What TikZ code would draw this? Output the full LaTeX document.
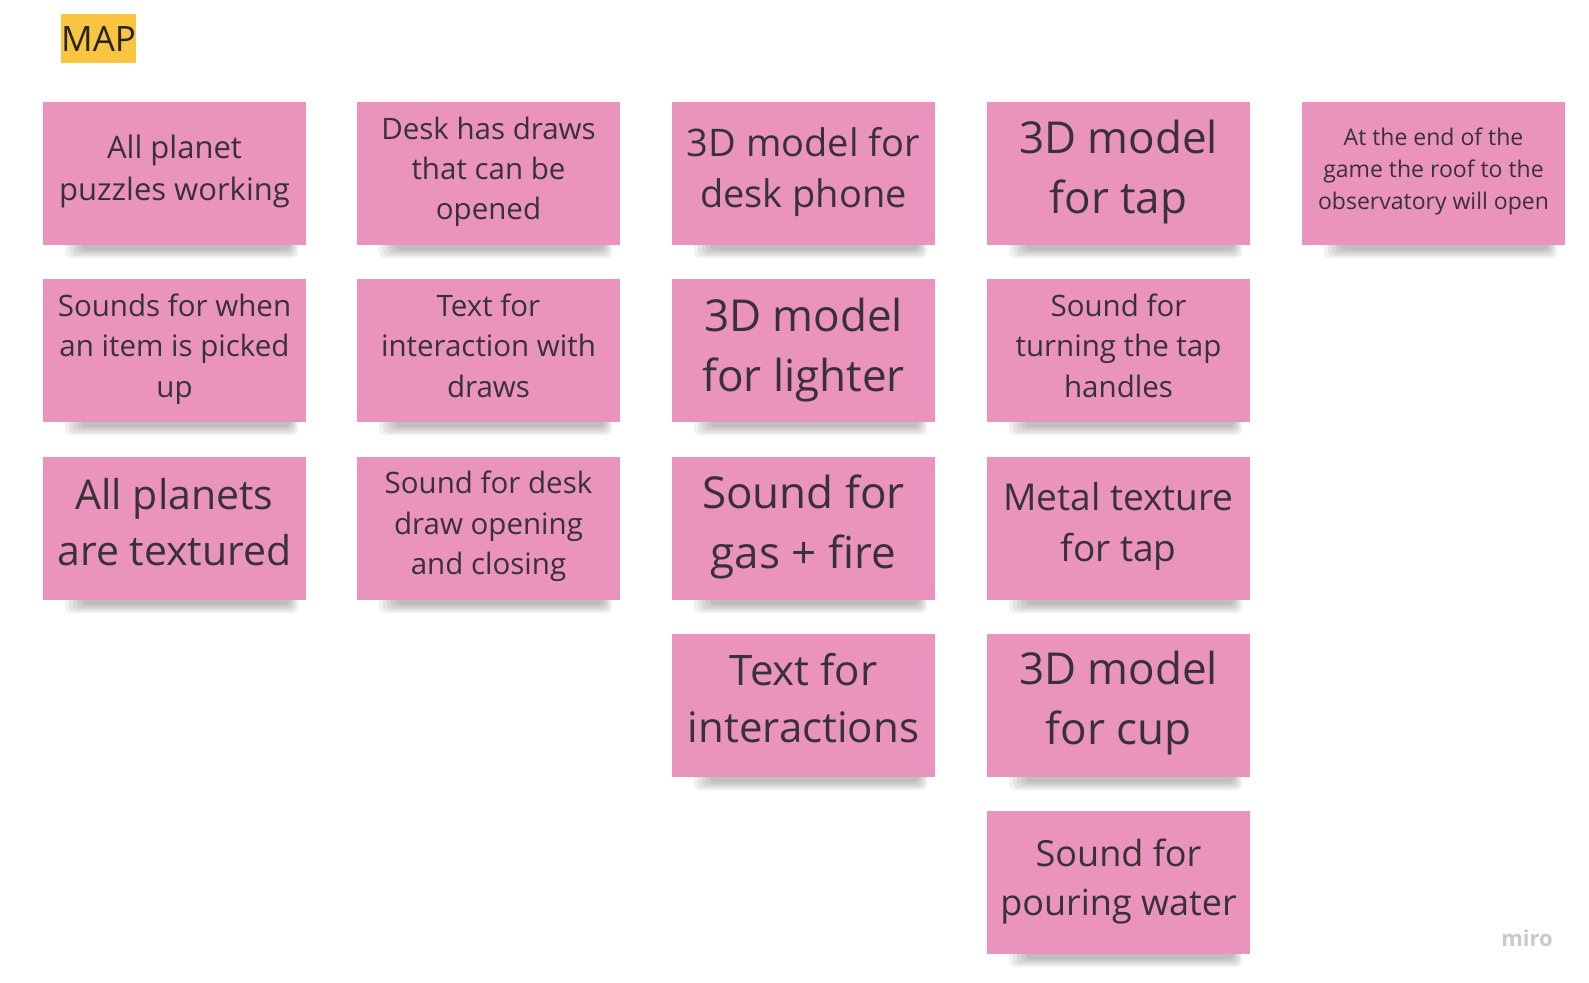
\documentclass[tikz,border=0pt]{standalone}
\usepackage{fontspec}
\setmainfont{Open Sans}
\usetikzlibrary{calc}
\definecolor{notepink}{HTML}{EA94BD}
\definecolor{notetext}{HTML}{3A3038}
\definecolor{mapyellow}{HTML}{F9C440}
\definecolor{mirogray}{HTML}{C9C9D2}
\newcommand{\sticky}[7]{%
  \foreach \i in {0,1,2,3,4} {
    \fill[black, opacity=0.055, rounded corners=5pt]
      ({#2+22+4*\i}, {-(#3+143-5)}) rectangle ({#2+263-8-2*\i}, {-(#3+143+13-2*\i)});
  }
  \node[notebox, minimum width=263pt, minimum height=143pt, anchor=north west] (#1) at (#2,-#3) {};
  \node[notelabel, font={\fontsize{#4}{#5}\selectfont}] (#1-t) at ($(#1.center)+(0,#7)$) {#6};
}
\tikzset{
  notebox/.style={fill=notepink, draw=none, inner sep=0pt, outer sep=0pt},
  notelabel/.style={text=notetext, align=center, inner sep=0pt},
}
\begin{document}
\begin{tikzpicture}[x=1pt,y=1pt]
\useasboundingbox[fill=white] (0,0) rectangle (1589,-982);
\node[fill=mapyellow, minimum width=74pt, minimum height=49pt, inner sep=0pt, anchor=north west,
      text=black!85, font={\fontsize{35}{40}\selectfont}] (map) at (61,-14) {MAP};
\sticky{n11}{43}{102}{31}{42.6}{All planet\\puzzles working}{2}
\sticky{n12}{43}{279}{29.5}{40.5}{Sounds for when\\an item is picked\\up}{1.5}
\sticky{n13}{43}{457}{41}{55.7}{All planets\\are textured}{6.5}
\sticky{n21}{357}{102}{29.5}{40}{Desk has draws\\that can be\\opened}{2}
\sticky{n22}{357}{279}{29.5}{40.5}{Text for\\interaction with\\draws}{5}
\sticky{n23}{357}{457}{29.5}{40.5}{Sound for desk\\draw opening\\and closing}{2}
\sticky{n31}{672}{102}{38}{51.7}{3D model for\\desk phone}{1.5}
\sticky{n32}{672}{279}{44}{60}{3D model\\for lighter}{0.5}
\sticky{n33}{672}{457}{44}{60}{Sound for\\gas + fire}{2}
\sticky{n34}{672}{634}{42}{56.7}{Text for\\interactions}{7.5}
\sticky{n41}{987}{102}{44}{60}{3D model\\for tap}{1}
\sticky{n42}{987}{279}{29.5}{40.5}{Sound for\\turning the tap\\handles}{5}
\sticky{n43}{987}{457}{37}{50.7}{Metal texture\\for tap}{2}
\sticky{n44}{987}{634}{44}{60}{3D model\\for cup}{2}
\sticky{n45}{987}{811}{36}{49.7}{Sound for\\pouring water}{1}
\sticky{n51}{1302}{102}{23}{31.6}{At the end of the\\game the roof to the\\observatory will open}{2}
\node[text=mirogray, font={\fontsize{22}{24}\selectfont\bfseries}, inner sep=0pt] (miro) at (1527,-938) {miro};
\end{tikzpicture}
\end{document}
